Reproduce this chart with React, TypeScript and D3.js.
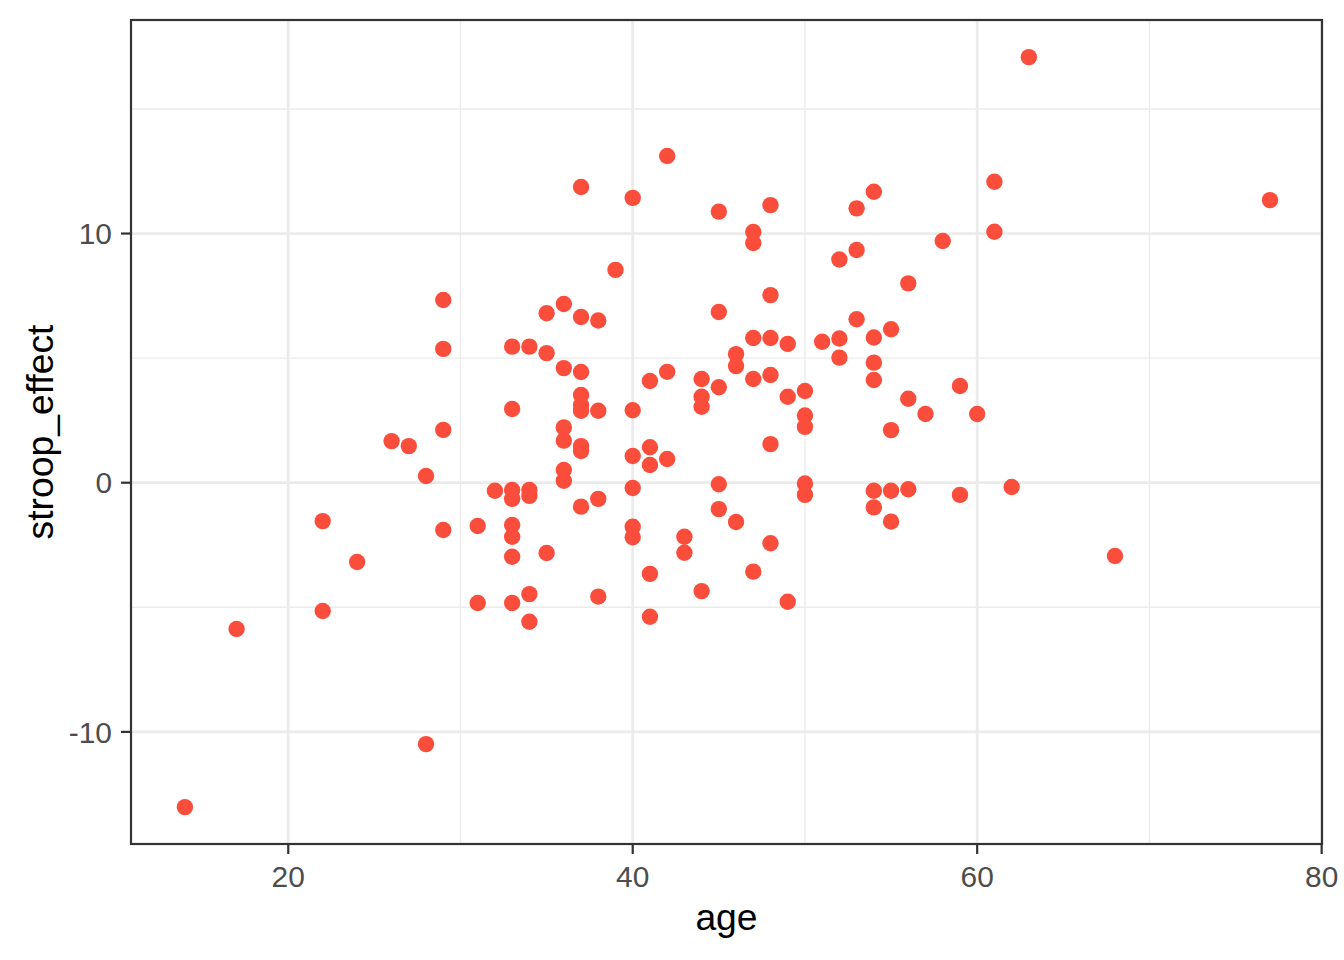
import React from "react";
import * as d3 from "d3";

const ages = [
  14, 17, 22, 22, 24, 26, 27, 28, 28, 29, 29, 29, 29, 31, 31, 32,
  33, 33, 33, 33, 33, 33, 33, 33, 34, 34, 34, 34, 34, 35, 35, 35,
  36, 36, 36, 36, 36, 36, 37, 37, 37, 37, 37, 37, 37, 37, 37,
  38, 38, 38, 38, 39, 40, 40, 40, 40, 40, 40, 41, 41, 41, 41, 41,
  42, 42, 42, 43, 43, 44, 44, 44, 44, 45, 45, 45, 45, 45, 46, 46, 46,
  47, 47, 47, 47, 47, 48, 48, 48, 48, 48, 48, 49, 49, 49,
  50, 50, 50, 50, 50, 51, 52, 52, 52, 53, 53, 53,
  54, 54, 54, 54, 54, 54, 55, 55, 55, 55, 56, 56, 56, 57, 58, 59, 59,
  60, 61, 61, 62, 63, 68, 77,
];

const stroopEffect = [
  -13.02, -5.87, -1.54, -5.15, -3.18, 1.67, 1.47, 0.27, -10.49, 7.33, 5.37, 2.12, -1.9, -1.74, -4.83, -0.32,
  5.46, 2.96, -0.29, -0.65, -1.7, -2.17, -2.97, -4.83, 5.46, -0.29, -0.53, -4.47, -5.58, 6.8, 5.2, -2.82,
  7.17, 4.6, 2.22, 1.69, 0.51, 0.08, 11.87, 6.65, 4.44, 3.52, 3.12, 2.89, 1.47, 1.27, -0.96,
  6.51, 2.89, -0.65, -4.57, 8.54, 11.43, 2.91, 1.07, -0.21, -1.77, -2.19, 4.08, 1.42, 0.71, -3.66, -5.38,
  13.11, 4.45, 0.95, -2.17, -2.81, 4.16, 3.45, 3.05, -4.35, 10.88, 6.85, 3.83, -0.06, -1.06, 5.16, 4.68, -1.58,
  10.06, 9.62, 5.81, 4.16, -3.57, 11.14, 7.53, 5.81, 4.32, 1.55, -2.43, 5.57, 3.45, -4.78,
  3.68, 2.7, 2.24, -0.03, -0.49, 5.66, 8.96, 5.79, 5.02, 11.01, 9.34, 6.56,
  11.68, 5.83, 4.82, 4.12, -0.32, -0.99, 6.16, 2.11, -0.32, -1.56, 8.0, 3.37, -0.26, 2.76, 9.7, 3.88, -0.49,
  2.76, 12.08, 10.07, -0.17, 17.08, -2.94, 11.34,
];

const xMajor = [20, 40, 60, 80];
const xMinor = [30, 50, 70];
const yMajor = [-10, 0, 10];
const yMinor = [-5, 5, 15];

const W = 1344;
const H = 960;
const panel = { left: 131, right: 1322, top: 20, bottom: 844 };

export default function App() {
  const x = d3.scaleLinear().domain([10.87, 80.02]).range([panel.left, panel.right]);
  const y = d3.scaleLinear().domain([-14.5, 18.57]).range([panel.bottom, panel.top]);
  const font = "'Liberation Sans', Arial, Helvetica, sans-serif";
  const pts = ages.map((a, i) => ({ a, s: stroopEffect[i] }));

  return (
    <svg
      width={W}
      height={H}
      style={{ position: "absolute", left: 0, top: 0, background: "#fff" }}
      fontFamily={font}
    >
      <rect x={0} y={0} width={W} height={H} fill="#fff" />
      <rect
        x={panel.left}
        y={panel.top}
        width={panel.right - panel.left}
        height={panel.bottom - panel.top}
        fill="#fff"
      />
      {xMinor.map((v) => (
        <line key={"xm" + v} x1={x(v)} x2={x(v)} y1={panel.top} y2={panel.bottom} stroke="#EBEBEB" strokeWidth={1.4} />
      ))}
      {yMinor.map((v) => (
        <line key={"ym" + v} x1={panel.left} x2={panel.right} y1={y(v)} y2={y(v)} stroke="#EBEBEB" strokeWidth={1.4} />
      ))}
      {xMajor.map((v) => (
        <line key={"xM" + v} x1={x(v)} x2={x(v)} y1={panel.top} y2={panel.bottom} stroke="#EBEBEB" strokeWidth={2.8} />
      ))}
      {yMajor.map((v) => (
        <line key={"yM" + v} x1={panel.left} x2={panel.right} y1={y(v)} y2={y(v)} stroke="#EBEBEB" strokeWidth={2.8} />
      ))}
      {pts.map((p, i) => (
        <circle key={i} cx={x(p.a)} cy={y(p.s)} r={8.2} fill="#FB4D3B" />
      ))}
      <rect
        x={panel.left}
        y={panel.top}
        width={panel.right - panel.left}
        height={panel.bottom - panel.top}
        fill="none"
        stroke="#333333"
        strokeWidth={2.2}
      />
      {xMajor.map((v) => (
        <g key={"xt" + v}>
          <line x1={x(v)} x2={x(v)} y1={panel.bottom} y2={panel.bottom + 10} stroke="#333333" strokeWidth={2.2} />
          <text x={x(v)} y={887} textAnchor="middle" fontSize={29.9} fill="#4D4D4D">
            {v}
          </text>
        </g>
      ))}
      {yMajor.map((v) => (
        <g key={"yt" + v}>
          <line x1={panel.left - 10} x2={panel.left} y1={y(v)} y2={y(v)} stroke="#333333" strokeWidth={2.2} />
          <text x={112} y={y(v)} dy="0.36em" textAnchor="end" fontSize={29.9} fill="#4D4D4D">
            {v}
          </text>
        </g>
      ))}
      <text x={(panel.left + panel.right) / 2} y={930} textAnchor="middle" fontSize={37.3} fill="#000">
        age
      </text>
      <text
        transform={`translate(53, ${(panel.top + panel.bottom) / 2}) rotate(-90)`}
        textAnchor="middle"
        fontSize={37.3}
        fill="#000"
      >
        stroop_effect
      </text>
    </svg>
  );
}
